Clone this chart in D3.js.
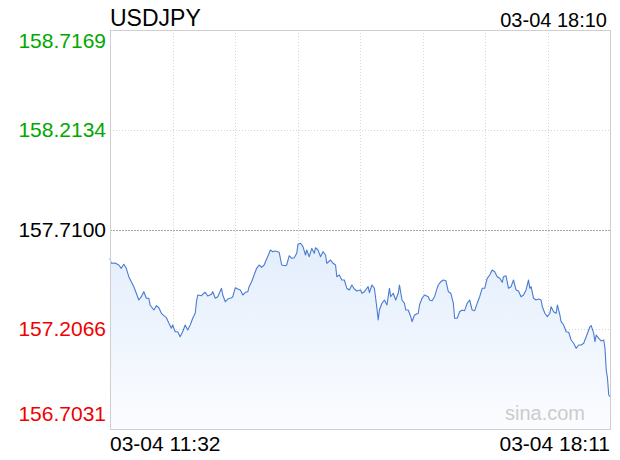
<!DOCTYPE html>
<html>
<head>
<meta charset="utf-8">
<script src="https://cdn.jsdelivr.net/npm/d3@7/dist/d3.min.js"></script>
<style>
  body { margin: 0; background: #fff; }
  svg { display: block; font-family: "Liberation Sans", Arial, sans-serif; }
</style>
</head>
<body>
<div id="chart"></div>
<script>
// 行情数据：分钟偏移（从 11:32 起）与价格
const title = 'USDJPY';
const nowLabel = '03-04 18:10';
const startLabel = '03-04 11:32';
const endLabel = '03-04 18:11';
const yTicks = [158.7169, 158.2134, 157.7100, 157.2066, 156.7031];
const prevClose = 157.7100;

const minutes = [
  0, 1, 4, 7, 9, 11, 13, 15, 17, 19, 21, 23, 25, 27, 29, 31, 32, 35, 37, 39,
  41, 43, 45, 47, 49, 50, 52, 54, 56, 58, 60, 62, 64, 66, 68, 69, 70, 73, 74, 76,
  78, 81, 82, 84, 86, 89, 90, 92, 94, 97, 98, 100, 102, 104, 106, 108, 110, 111, 113, 115,
  117, 119, 121, 123, 125, 127, 128, 130, 132, 135, 137, 140, 141, 143, 145, 147, 149, 150, 152, 154,
  156, 157, 159, 161, 163, 164, 166, 168, 170, 172, 173, 176, 178, 180, 181, 183, 185, 187, 189, 191,
  193, 195, 197, 200, 201, 203, 206, 207, 209, 211, 213, 214, 215, 217, 219, 221, 223, 224, 226, 228,
  230, 231, 233, 235, 236, 238, 240, 241, 243, 246, 247, 249, 251, 254, 255, 257, 259, 261, 262, 264,
  266, 268, 270, 272, 274, 275, 277, 279, 281, 283, 285, 287, 289, 291, 293, 295, 297, 299, 301, 303,
  305, 307, 309, 311, 313, 314, 316, 318, 320, 322, 324, 326, 328, 330, 332, 334, 335, 336, 338, 340,
  342, 344, 345, 347, 349, 351, 352, 354, 356, 357, 359, 360, 362, 364, 366, 368, 370, 372, 374, 376,
  378, 380, 382, 383, 384, 386, 387, 388, 390, 392, 394, 395, 396, 397, 398, 399
];
const prices = [
  157.5646, 157.5394, 157.5409, 157.5308, 157.5142, 157.5344, 157.5142, 157.4718, 157.4466, 157.4213,
  157.3880, 157.3542, 157.3708, 157.3961, 157.3628, 157.3628, 157.3290, 157.3037, 157.3254, 157.3153,
  157.2871, 157.2750, 157.2649, 157.2366, 157.2114, 157.2280, 157.1942, 157.1942, 157.1690, 157.1942,
  157.2280, 157.2028, 157.2280, 157.2618, 157.2871, 157.3456, 157.3794, 157.3759, 157.3830, 157.3931,
  157.3744, 157.3830, 157.3961, 157.3628, 157.3708, 157.4132, 157.3794, 157.3456, 157.3592, 157.3658,
  157.3708, 157.4163, 157.4097, 157.4047, 157.3794, 157.3931, 157.3961, 157.4213, 157.4466, 157.4804,
  157.5142, 157.5308, 157.5192, 157.5308, 157.5611, 157.5899, 157.6065, 157.5980, 157.6015, 157.5949,
  157.5308, 157.5273, 157.5308, 157.5778, 157.5646, 157.5677, 157.5899, 157.6353, 157.6404, 157.6232,
  157.5813, 157.6065, 157.5727, 157.6151, 157.5899, 157.6181, 157.6065, 157.5727, 157.5980, 157.5813,
  157.5394, 157.5561, 157.5394, 157.5308, 157.4718, 157.4804, 157.4551, 157.4551, 157.4132, 157.4047,
  157.4299, 157.4097, 157.3996, 157.4047, 157.3880, 157.3961, 157.4213, 157.3910, 157.4299, 157.4132,
  157.3123, 157.2533, 157.3037, 157.3375, 157.3542, 157.3290, 157.4132, 157.3708, 157.3880, 157.3542,
  157.3880, 157.4299, 157.3542, 157.3375, 157.3037, 157.3037, 157.2699, 157.2447, 157.2785, 157.2871,
  157.3290, 157.3628, 157.3794, 157.3708, 157.3542, 157.3507, 157.3708, 157.4132, 157.4299, 157.4466,
  157.4551, 157.4516, 157.3961, 157.3880, 157.3375, 157.2618, 157.2618, 157.2951, 157.3037, 157.3002,
  157.3375, 157.3542, 157.3037, 157.3002, 157.3375, 157.3708, 157.4132, 157.4132, 157.4637, 157.4804,
  157.5056, 157.4970, 157.4718, 157.4637, 157.4435, 157.4718, 157.4768, 157.4132, 157.4213, 157.4551,
  157.4047, 157.3996, 157.3708, 157.3794, 157.4047, 157.4551, 157.4132, 157.4213, 157.3628, 157.3542,
  157.3592, 157.3542, 157.3204, 157.2871, 157.2699, 157.2871, 157.3204, 157.2951, 157.2871, 157.3290,
  157.2785, 157.2447, 157.2280, 157.1942, 157.1912, 157.1523, 157.1357, 157.1104, 157.1271, 157.1271,
  157.1357, 157.1690, 157.2028, 157.2194, 157.2245, 157.1861, 157.1437, 157.1775, 157.1609, 157.1473,
  157.1523, 157.1104, 157.0009, 156.9590, 156.8747, 156.8661
];

const width = 620;
const height = 460;
const margin = { top: 30, right: 10, bottom: 31, left: 110 };
const innerWidth = width - margin.left - margin.right;
const innerHeight = height - margin.top - margin.bottom;

const t0 = new Date(2024, 2, 4, 11, 32);
const t1 = new Date(2024, 2, 4, 18, 11);
const data = minutes.map((m, i) => ({ t: new Date(+t0 + m * 60000), v: prices[i] }));

const x = d3.scaleTime().domain([t0, t1]).range([0, innerWidth]);
const y = d3.scaleLinear().domain([yTicks[4], yTicks[0]]).range([innerHeight, 0]);

const svg = d3.select('#chart').append('svg')
  .attr('width', width)
  .attr('height', height);

// 渐变填充
const grad = svg.append('defs').append('linearGradient')
  .attr('id', 'areaFill')
  .attr('x1', 0).attr('y1', 0).attr('x2', 0).attr('y2', 1);
grad.append('stop').attr('offset', '0%').attr('stop-color', '#e3eefc');
grad.append('stop').attr('offset', '100%').attr('stop-color', '#fbfcff');

const mg = svg.append('g').attr('transform', `translate(${margin.left},${margin.top})`);

// 竖向网格
const vTicks = d3.range(1, 8).map(i => new Date(+t0 + i * (t1 - t0) / 8));
mg.append('g').selectAll('line')
  .data(vTicks)
  .join('line')
  .attr('x1', d => Math.round(x(d)) + 0.5)
  .attr('x2', d => Math.round(x(d)) + 0.5)
  .attr('y1', 0)
  .attr('y2', innerHeight)
  .attr('stroke', '#d6d6d6')
  .attr('stroke-dasharray', '1,2');

// 横向网格
mg.append('g').selectAll('line')
  .data(yTicks.slice(1, 4))
  .join('line')
  .attr('x1', 0)
  .attr('x2', innerWidth)
  .attr('y1', d => Math.round(y(d)) + 0.5)
  .attr('y2', d => Math.round(y(d)) + 0.5)
  .attr('stroke', d => d === prevClose ? '#a8a8a8' : '#d6d6d6')
  .attr('stroke-dasharray', d => d === prevClose ? '2,1' : '1,2');

// 面积与折线
mg.append('path')
  .datum(data)
  .attr('fill', 'url(#areaFill)')
  .attr('d', d3.area().x(d => x(d.t)).y0(innerHeight).y1(d => y(d.v)));

mg.append('path')
  .datum(data)
  .attr('fill', 'none')
  .attr('stroke', '#4a7bd2')
  .attr('stroke-width', 1.1)
  .attr('stroke-linejoin', 'round')
  .attr('d', d3.line().x(d => x(d.t)).y(d => y(d.v)));

// 边框
mg.append('rect')
  .attr('x', 0.5).attr('y', 0.5)
  .attr('width', innerWidth).attr('height', innerHeight)
  .attr('fill', 'none')
  .attr('stroke', '#cfcfcf');

// 水印
mg.append('text')
  .attr('x', innerWidth - 25)
  .attr('y', innerHeight - 9)
  .attr('text-anchor', 'end')
  .attr('fill', '#cccccc')
  .style('font-size', '20px')
  .text('sina.com');

// 纵轴标签
const yColor = v => v > prevClose ? '#00a800' : v < prevClose ? '#f00000' : '#000';
svg.append('g').selectAll('text')
  .data(yTicks)
  .join('text')
  .attr('x', margin.left - 4)
  .attr('y', (d, i) => {
    const py = margin.top + y(d);
    if (i === 0) return py + 18;
    if (i === yTicks.length - 1) return py - 8;
    return py + 7;
  })
  .attr('text-anchor', 'end')
  .attr('fill', yColor)
  .style('font-size', '21px')
  .text(d => d.toFixed(4));

// 标题与时间
svg.append('text')
  .attr('x', margin.left).attr('y', 26)
  .style('font-size', '23px')
  .text(title);
svg.append('text')
  .attr('x', width - 13).attr('y', 27)
  .attr('text-anchor', 'end')
  .style('font-size', '20px')
  .text(nowLabel);
svg.append('text')
  .attr('x', margin.left).attr('y', 451)
  .style('font-size', '21px')
  .text(startLabel);
svg.append('text')
  .attr('x', width - 10).attr('y', 451)
  .attr('text-anchor', 'end')
  .style('font-size', '21px')
  .text(endLabel);
</script>
</body>
</html>
